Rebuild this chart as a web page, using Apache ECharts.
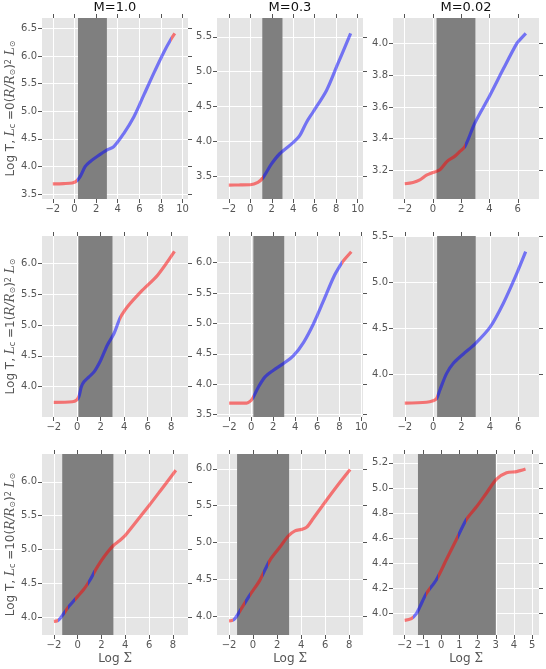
<!DOCTYPE html>
<html>
<head>
<meta charset="utf-8">
<script src="https://cdn.jsdelivr.net/npm/echarts@6/dist/echarts.min.js"></script>
<style>
  html, body { margin: 0; padding: 0; background: #fff; }
  #chart { width: 546px; height: 669px; }
</style>
</head>
<body>
<div id="chart"></div>
<script>
// column titles and the L_c factor of each row
const titles = ['M=1.0', 'M=0.3', 'M=0.02'];
const lcFactors = ['0', '1', '10'];

// log Sigma / log T per panel (row by row)
const sigma = [
    [-2.0, -1.0, -0.2, 0.17, 0.54, 1.0, 1.47, 2.09, 3.02, 3.64, 4.57, 5.5, 6.43, 7.36, 8.29, 8.91, 9.28],
    [-2.0, -1.0, 0.0, 0.71, 1.18, 1.96, 2.74, 3.98, 4.6, 5.23, 5.85, 7.1, 8.04, 9.35],
    [-2.0, -1.41, -0.93, -0.46, 0.01, 0.49, 1.0, 1.55, 1.9, 2.26, 2.97, 4.04, 4.98, 5.93, 6.17, 6.57],
    [-2.0, -0.42, -0.05, 0.14, 0.35, 0.57, 1.0, 1.43, 2.0, 2.58, 3.14, 3.57, 3.78, 4.29, 5.43, 6.86, 8.28],
    [-2.0, -0.41, -0.02, 0.19, 0.65, 1.26, 2.02, 2.93, 3.84, 4.76, 5.67, 6.58, 7.5, 8.1, 8.41, 9.09],
    [-2.0, -0.47, 0.0, 0.24, 0.47, 0.94, 1.41, 2.11, 2.94, 4.0, 4.94, 5.88, 6.52],
    [-2.0, -1.7, -1.5, -1.2, -0.8, -0.4, 0.0, 0.5, 1.0, 1.5, 2.0, 2.5, 3.0, 3.5, 4.0, 4.5, 5.0, 6.0, 7.0, 8.25],
    [-2.0, -1.75, -1.52, -0.96, -0.27, 0.56, 1.4, 2.24, 2.93, 3.49, 4.05, 4.47, 5.02, 6.14, 7.25, 8.08],
    [-2.0, -1.63, -1.36, -1.18, -0.81, -0.26, 0.29, 0.84, 1.39, 1.94, 2.49, 3.04, 3.59, 4.14, 4.63]
];
const logT = [
    [3.685, 3.69, 3.70, 3.73, 3.82, 4.0, 4.09, 4.18, 4.30, 4.36, 4.60, 4.90, 5.30, 5.70, 6.08, 6.30, 6.41],
    [3.37, 3.372, 3.375, 3.41, 3.475, 3.67, 3.82, 3.98, 4.08, 4.27, 4.42, 4.73, 5.07, 5.55],
    [3.116, 3.124, 3.14, 3.17, 3.187, 3.204, 3.257, 3.29, 3.32, 3.35, 3.50, 3.675, 3.84, 4.0, 4.025, 4.063],
    [3.747, 3.757, 3.785, 3.84, 4.0, 4.08, 4.16, 4.24, 4.43, 4.68, 4.865, 5.08, 5.16, 5.30, 5.54, 5.81, 6.19],
    [3.69, 3.69, 3.73, 3.785, 3.95, 4.12, 4.23, 4.34, 4.47, 4.69, 5.0, 5.38, 5.77, 5.96, 6.04, 6.18],
    [3.69, 3.70, 3.717, 3.74, 3.83, 4.01, 4.12, 4.22, 4.33, 4.51, 4.77, 5.09, 5.33],
    [3.94, 3.95, 3.98, 4.05, 4.15, 4.23, 4.31, 4.41, 4.54, 4.70, 4.84, 4.96, 5.06, 5.13, 5.21, 5.32, 5.43, 5.65, 5.88, 6.17],
    [3.94, 3.945, 3.97, 4.11, 4.29, 4.49, 4.76, 4.94, 5.09, 5.16, 5.18, 5.21, 5.33, 5.58, 5.82, 5.99],
    [3.946, 3.96, 4.0, 4.05, 4.16, 4.27, 4.43, 4.59, 4.75, 4.85, 4.96, 5.07, 5.12, 5.13, 5.15]
];

// log Sigma ranges where the curve is blue (red elsewhere)
const blueRanges = [
    [[0.2, 8.95]],
    [[1.18, 20]],
    [[2.26, 20]],
    [[0.1, 3.65]],
    [[0.15, 8.2]],
    [[0.25, 20]],
    [[-1.65, -1.05], [-0.8, -0.2], [0.85, 1.4]],
    [[-1.67, -1.1], [-0.7, -0.27], [0.84, 1.26]],
    [[-1.55, -0.82], [-0.63, -0.17], [0.93, 1.39]]
];

// shaded log Sigma band
const bands = [
    [0.33, 3.0], [1.12, 3.0], [0.25, 3.0],
    [0.1, 3.0], [0.2, 3.0], [0.28, 3.0],
    [-1.3, 3.0], [-1.33, 3.0], [-1.27, 3.0]
];

const xRanges = [
    [-3.0, 10.5], [-3.1, 10.5], [-2.83, 7.5],
    [-3.0, 9.43], [-3.1, 10.15], [-2.83, 7.46],
    [-3.0, 9.27], [-3.0, 9.15], [-2.64, 5.37]
];
const yRanges = [
    [3.41, 6.69], [3.17, 5.77], [3.02, 4.16],
    [3.51, 6.44], [3.46, 6.44], [3.54, 5.5],
    [3.74, 6.41], [3.75, 6.2], [3.83, 5.27]
];

const xTicks = [
    [-2, 0, 2, 4, 6, 8, 10], [-2, 0, 2, 4, 6, 8, 10], [-2, 0, 2, 4, 6],
    [-2, 0, 2, 4, 6, 8], [-2, 0, 2, 4, 6, 8, 10], [-2, 0, 2, 4, 6],
    [-2, 0, 2, 4, 6, 8], [-2, 0, 2, 4, 6, 8], [-2, -1, 0, 1, 2, 3, 4, 5]
];
const yTicks = [
    [3.5, 4.0, 4.5, 5.0, 5.5, 6.0, 6.5],
    [3.5, 4.0, 4.5, 5.0, 5.5],
    [3.2, 3.4, 3.6, 3.8, 4.0],
    [4.0, 4.5, 5.0, 5.5, 6.0],
    [3.5, 4.0, 4.5, 5.0, 5.5, 6.0],
    [4.0, 4.5, 5.0, 5.5],
    [4.0, 4.5, 5.0, 5.5, 6.0],
    [4.0, 4.5, 5.0, 5.5, 6.0],
    [4.0, 4.2, 4.4, 4.6, 4.8, 5.0, 5.2]
];

var redLine = 'rgba(255, 0, 0, 0.5)';
var blueLine = 'rgba(0, 0, 255, 0.5)';
var tickColor = '#555';
var font = 'DejaVu Sans';

var gridLeft = [42, 217, 393];
var gridTop = [18, 236, 454];
var gridW = 146, gridH = 181;

function fmtX(v) {
    return String(v).replace('-', '\u2212');
}
function fmtY(v) {
    return v.toFixed(1);
}

var grids = [], xAxes = [], yAxes = [], series = [], visualMaps = [], titleList = [];

titles.forEach(function (t, c) {
    titleList.push({
        text: t,
        left: gridLeft[c] + gridW / 2,
        top: 1,
        padding: 0,
        textAlign: 'center',
        textStyle: { fontFamily: font, fontSize: 13, fontWeight: 'normal', color: '#111' }
    });
});

for (var i = 0; i < 9; i++) {
    var row = Math.floor(i / 3), col = i % 3;
    grids.push({
        left: gridLeft[col], top: gridTop[row], width: gridW, height: gridH,
        show: true, backgroundColor: '#e5e5e5', borderWidth: 0
    });

    [false, true].forEach(function (other) {
        var xa = {
            type: 'value', gridIndex: i,
            position: other ? 'top' : 'bottom',
            min: xRanges[i][0], max: xRanges[i][1],
            axisLine: { show: false, onZero: false },
            axisTick: { show: true, length: 4, lineStyle: { color: tickColor }, customValues: xTicks[i] },
            axisLabel: {
                show: !other, customValues: xTicks[i], margin: 5,
                fontFamily: font, fontSize: 10, color: tickColor, formatter: fmtX
            },
            splitLine: { show: !other, lineStyle: { color: '#fff', width: 1 } }
        };
        if (!other && row === 2) {
            xa.name = '{a|Log }{m|Σ}';
            xa.nameLocation = 'middle';
            xa.nameGap = 18;
            xa.nameTextStyle = {
                color: tickColor, fontSize: 12, fontFamily: font,
                rich: {
                    a: { color: tickColor, fontSize: 12, fontFamily: font },
                    m: { color: tickColor, fontSize: 12, fontFamily: 'DejaVu Serif' }
                }
            };
        }
        xAxes.push(xa);

        var ya = {
            type: 'value', gridIndex: i,
            position: other ? 'right' : 'left',
            min: yRanges[i][0], max: yRanges[i][1],
            axisLine: { show: false, onZero: false },
            axisTick: { show: true, length: 4, lineStyle: { color: tickColor }, customValues: yTicks[i] },
            axisLabel: {
                show: !other, customValues: yTicks[i], margin: 5,
                fontFamily: font, fontSize: 10, color: tickColor, formatter: fmtY
            },
            splitLine: { show: !other, lineStyle: { color: '#fff', width: 1 } }
        };
        if (!other && col === 0) {
            ya.name = '{a|Log T, }{i|L}{s|c}{a| =' + lcFactors[row] + '(}{i|R/R}{s|⊙}{a|)}{p|2}{a| }{i|L}{s|⊙}';
            ya.nameLocation = 'middle';
            ya.nameGap = 25;
            ya.nameTextStyle = {
                color: tickColor, fontSize: 12, fontFamily: font,
                rich: {
                    a: { color: tickColor, fontSize: 12, fontFamily: font },
                    i: { color: tickColor, fontSize: 12, fontFamily: 'DejaVu Serif', fontStyle: 'italic' },
                    s: { color: tickColor, fontSize: 8, fontFamily: font, verticalAlign: 'bottom' },
                    p: { color: tickColor, fontSize: 8, fontFamily: font, verticalAlign: 'top' }
                }
            };
        }
        yAxes.push(ya);
    });

    series.push({
        type: 'line',
        xAxisIndex: i * 2,
        yAxisIndex: i * 2,
        data: sigma[i].map(function (x, k) { return [x, logT[i][k]]; }),
        showSymbol: false,
        symbol: 'none',
        smooth: 0.3,
        z: 3,
        lineStyle: { width: 3.2 },
        markArea: {
            silent: true,
            itemStyle: { color: '#7f7f7f' },
            data: [[{ xAxis: bands[i][0] }, { xAxis: bands[i][1] }]]
        }
    });

    visualMaps.push({
        type: 'piecewise',
        show: false,
        dimension: 0,
        seriesIndex: i,
        pieces: blueRanges[i].map(function (r) {
            return { gte: r[0], lte: r[1], color: blueLine };
        }),
        outOfRange: { color: redLine }
    });
}

var myChart = echarts.init(document.getElementById('chart'));
var option = {
    animation: false,
    backgroundColor: '#fff',
    title: titleList,
    grid: grids,
    xAxis: xAxes,
    yAxis: yAxes,
    visualMap: visualMaps,
    series: series
};
option && myChart.setOption(option);
</script>
</body>
</html>
